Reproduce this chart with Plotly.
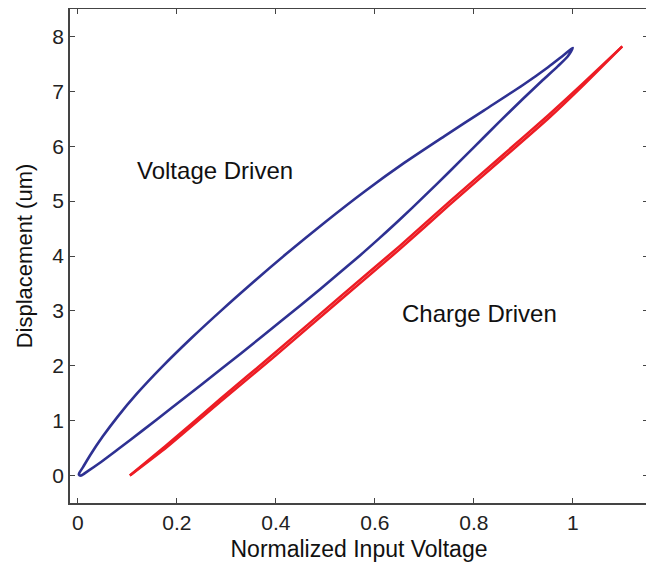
import plotly.graph_objects as go

# Voltage driven hysteresis loop: lower (ascending) branch then upper (returning) branch
volt_up_x = [0.006, 0.02, 0.041, 0.081, 0.129, 0.189, 0.25, 0.33, 0.41, 0.49, 0.57,
             0.61, 0.65, 0.70, 0.75, 0.80, 0.85, 0.90, 0.94, 0.97, 0.99, 1.0]
volt_up_y = [0.0, 0.08, 0.21, 0.48, 0.81, 1.23, 1.66, 2.23, 2.81, 3.40, 4.01,
             4.33, 4.66, 5.09, 5.53, 5.98, 6.43, 6.87, 7.21, 7.46, 7.64, 7.79]
volt_down_x = [1.0, 0.98, 0.95, 0.90, 0.82, 0.74, 0.66, 0.58, 0.50, 0.42, 0.35,
               0.29, 0.23, 0.17, 0.12, 0.08, 0.05, 0.025, 0.01, 0.003, 0.002, 0.006]
volt_down_y = [7.79, 7.65, 7.44, 7.12, 6.65, 6.18, 5.70, 5.18, 4.62, 4.03, 3.49,
               3.01, 2.51, 1.98, 1.50, 1.07, 0.71, 0.375, 0.15, 0.05, 0.015, 0.0]

# Charge driven (nearly linear, very thin loop)
charge_up_x = [0.105, 0.18, 0.287, 0.40, 0.529, 0.65, 0.752, 0.86, 0.95, 1.02, 1.10]
charge_up_y = [0.0, 0.56, 1.39, 2.25, 3.25, 4.18, 5.00, 5.85, 6.56, 7.14, 7.82]
charge_down_x = [1.10, 1.02, 0.95, 0.86, 0.752, 0.65, 0.529, 0.40, 0.287, 0.18, 0.105]
charge_down_y = [7.82, 7.10, 6.50, 5.79, 4.94, 4.12, 3.19, 2.19, 1.34, 0.52, 0.0]

x_ticks = [0, 0.2, 0.4, 0.6, 0.8, 1]
x_tick_labels = ["0", "0.2", "0.4", "0.6", "0.8", "1"]
y_ticks = [0, 1, 2, 3, 4, 5, 6, 7, 8]

BLUE = "#2E3192"
RED = "#ED1C24"
FONT = "Liberation Sans, Arial, sans-serif"

fig = go.Figure()
fig.add_trace(go.Scatter(x=volt_up_x + volt_down_x[1:], y=volt_up_y + volt_down_y[1:],
                         mode="lines", line=dict(color=BLUE, width=2.6, shape="spline", smoothing=0.7),
                         showlegend=False, hoverinfo="skip"))
fig.add_trace(go.Scatter(x=charge_up_x, y=charge_up_y, mode="lines",
                         line=dict(color=RED, width=2.5, shape="spline", smoothing=0.5),
                         showlegend=False, hoverinfo="skip"))
fig.add_trace(go.Scatter(x=charge_down_x, y=charge_down_y, mode="lines",
                         line=dict(color=RED, width=2.5, shape="spline", smoothing=0.5),
                         showlegend=False, hoverinfo="skip"))

fig.add_annotation(x=0.115, y=5.55, text="Voltage Driven", showarrow=False,
                   xanchor="left", yanchor="middle", font=dict(family=FONT, size=24, color="#111"))
fig.add_annotation(x=0.65, y=2.96, text="Charge Driven", showarrow=False,
                   xanchor="left", yanchor="middle", font=dict(family=FONT, size=24, color="#111"))

axis_common = dict(showline=True, mirror="ticks", linecolor="#444", linewidth=1.8,
                   ticks="inside", ticklen=5, tickwidth=1.4, tickcolor="#444",
                   showgrid=False, zeroline=False, automargin=False,
                   tickfont=dict(family=FONT, size=21, color="#222"))

# page body adds an 8 px margin, so the figure is sized to fit inside the window
fig.update_layout(
    width=646, height=561,
    margin=dict(l=62, r=6, t=1, b=66),
    paper_bgcolor="white", plot_bgcolor="white",
    font=dict(family=FONT),
    xaxis=dict(range=[-0.016, 1.152], tickvals=x_ticks, ticktext=x_tick_labels,
               title=dict(text="Normalized Input Voltage", font=dict(family=FONT, size=23, color="#111"),
                          standoff=8),
               **axis_common),
    yaxis=dict(range=[-0.5, 8.5], tickvals=y_ticks,
               title=dict(text="Displacement (um)", font=dict(family=FONT, size=22, color="#111"),
                          standoff=14),
               **axis_common),
)

fig.write_html("out.html")
